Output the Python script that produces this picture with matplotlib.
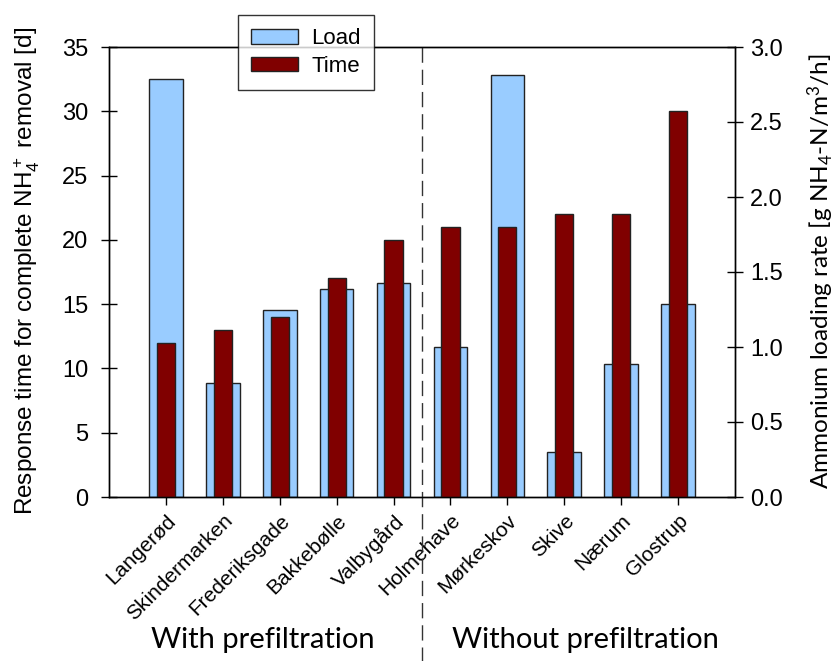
import matplotlib
matplotlib.use("Agg")
import matplotlib.pyplot as plt
from matplotlib.patches import Patch

plants = ["Langerød", "Skindermarken", "Frederiksgade", "Bakkebølle", "Valbygård",
          "Holmehave", "Mørkeskov", "Skive", "Nærum", "Glostrup"]
load = [2.785, 0.758, 1.249, 1.389, 1.427, 0.998, 2.813, 0.298, 0.889, 1.289]   # g NH4-N/m3/h
time = [12, 13, 14, 17, 20, 21, 21, 22, 22, 30]                                  # d
groups = ["With prefiltration", "Without prefiltration"]

plt.rcParams["font.family"] = "Liberation Sans"
plt.rcParams["mathtext.default"] = "regular"

fig = plt.figure(figsize=(8.37, 6.61), dpi=100)
ax = fig.add_axes([109 / 837, 1 - 497 / 661, 626 / 837, 450 / 661])
ax2 = ax.twinx()

x = list(range(1, len(plants) + 1))
ax2.bar(x, load, width=0.59, color="#99ccff", edgecolor="#222222", linewidth=1.0)
ax.bar(x, time, width=0.32, color="#800000", edgecolor="#222222", linewidth=1.0)

ax.set_zorder(ax2.get_zorder() + 1)
ax.patch.set_visible(False)

ax.set_xlim(0, 11)
ax.set_ylim(0, 35)
ax2.set_ylim(0, 3.0)
ax.set_yticks(range(0, 36, 5))
ax2.set_yticks([0, 0.5, 1.0, 1.5, 2.0, 2.5, 3.0])
ax2.set_yticklabels([f"{v:.1f}" for v in [0, 0.5, 1.0, 1.5, 2.0, 2.5, 3.0]])
ax.set_xticks(x)
ax.set_xticklabels(plants, rotation=45, ha="right", rotation_mode="anchor", fontsize=15)

ax.tick_params(axis="y", direction="inout", length=12, width=1, labelsize=17, pad=9)
ax2.tick_params(axis="y", direction="inout", length=12, width=1, labelsize=17, pad=5)
ax.tick_params(axis="x", direction="out", length=6, width=1, pad=4)
for a in (ax, ax2):
    for s in a.spines.values():
        s.set_linewidth(1.0)

ax.set_ylabel("Response time for complete NH$_4^+$ removal [d]", fontsize=17.5)
ax.yaxis.set_label_coords((42 - 109) / 626, (497 - 271) / 450)
ax2.set_ylabel("Ammonium loading rate [g NH$_4$-N/m$^3$/h]", fontsize=17.5, family="Lato")
ax2.yaxis.set_label_coords((806 - 109) / 626, (497 - 271) / 450)

# group separator
ax.plot([5.5, 5.5], [35, -13.2], color="#333333", linestyle=(0, (11, 5)), linewidth=1.0,
        clip_on=False)
fig.text(263 / 837, 1 - 640 / 661, groups[0], ha="center", va="center", fontsize=21, family="Lato")
fig.text(585 / 837, 1 - 640 / 661, groups[1], ha="center", va="center", fontsize=21, family="Lato")

handles = [Patch(facecolor="#99ccff", edgecolor="#222222", label="Load"),
           Patch(facecolor="#800000", edgecolor="#222222", label="Time")]
leg = fig.legend(handles=handles, loc="upper left", bbox_to_anchor=(238 / 837, 1 - 15 / 661),
                 borderaxespad=0, fontsize=16, frameon=True, fancybox=False, edgecolor="black",
                 handlelength=2.1, handleheight=0.6, borderpad=0.6, labelspacing=0.3,
                 handletextpad=0.6)
leg.get_frame().set_linewidth(1.0)
leg.set_zorder(10)

fig.savefig("out.png", dpi=100)
